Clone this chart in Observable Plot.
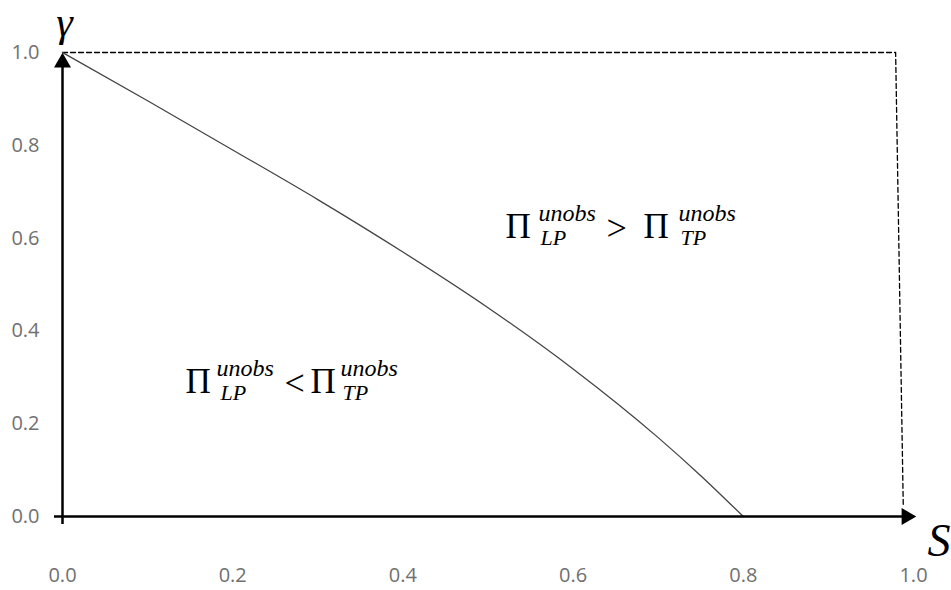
<!DOCTYPE html>
<html><head><meta charset="utf-8">
<script src="https://cdn.jsdelivr.net/npm/d3@7"></script>
<script src="https://cdn.jsdelivr.net/npm/@observablehq/plot@0.6"></script>
<style>body{margin:0;background:#fff}</style>
</head><body><div id="chart"></div>
<script>
// boundary curve (s, gamma)
const curveS     = [0, 0.1, 0.2, 0.3, 0.4, 0.5, 0.6, 0.7, 0.75, 0.8];
const curveGamma = [1, 0.896, 0.79, 0.683, 0.570, 0.450, 0.318, 0.170, 0.088, 0];
// dashed box (top edge and right edge)
const boxS     = [0, 0.979, 0.988];
const boxGamma = [1, 1, 0.02];
// tick labels
const tickValues = [0, 0.2, 0.4, 0.6, 0.8, 1.0];
// region labels
const labelS     = [0.1445, 0.5206];
const labelGamma = [0.267, 0.601];
const labelRel   = ["<", ">"];
const labelSup   = ["unobs", "unobs"];
const labelSubA  = ["LP", "LP"];
const labelSubB  = ["TP", "TP"];

const curve = curveS.map((s, i) => ({s, g: curveGamma[i]}));
const box = boxS.map((s, i) => ({s, g: boxGamma[i]}));
const labels = labelS.map((s, i) => ({s, g: labelGamma[i], rel: labelRel[i], sup: labelSup[i], a: labelSubA[i], b: labelSubB[i]}));

const serif = "'Liberation Serif', 'Times New Roman', serif";
function labelMarks(d, off) {
  const base = {x: "s", y: "g", textAnchor: "start", lineAnchor: "bottom", fill: "black", fontFamily: serif};
  return [
    Plot.text([d], {...base, text: () => "Π", fontSize: 35, dx: off[0]}),
    Plot.text([d], {...base, text: "sup", fontSize: 24, fontStyle: "italic", dx: off[1], dy: -17}),
    Plot.text([d], {...base, text: "a", fontSize: 22, fontStyle: "italic", dx: off[2], dy: 7}),
    Plot.text([d], {...base, text: "rel", fontSize: 36, dx: off[3], dy: 2}),
    Plot.text([d], {...base, text: () => "Π", fontSize: 35, dx: off[4]}),
    Plot.text([d], {...base, text: "sup", fontSize: 24, fontStyle: "italic", dx: off[5], dy: -17}),
    Plot.text([d], {...base, text: "b", fontSize: 22, fontStyle: "italic", dx: off[6], dy: 7})
  ];
}

const chart = Plot.plot({
  width: 951,
  height: 590,
  marginLeft: 62,
  marginRight: 38,
  marginTop: 52,
  marginBottom: 74,
  x: {domain: [0, 1]},
  y: {domain: [0, 1]},
  style: {fontFamily: "'Open Sans', 'Noto Sans', sans-serif", fontSize: "20px", color: "#707070", background: "#fff"},
  marks: [
    Plot.axisY({ticks: tickValues, tickFormat: d3.format(".1f"), tickSize: 0, tickPadding: 23, label: null, fontSize: 20}),
    Plot.axisX({ticks: tickValues, tickFormat: d3.format(".1f"), tickSize: 0, tickPadding: 51, label: null, fontSize: 20}),
    Plot.line(box, {x: "s", y: "g", stroke: "black", strokeWidth: 1.3, strokeDasharray: "5,3"}),
    Plot.line(curve, {x: "s", y: "g", stroke: "#444", strokeWidth: 1.3, curve: "monotone-x"}),
    Plot.ruleY([0], {x1: 0, x2: 1, stroke: "black", strokeWidth: 2.5, dx: -8}),
    Plot.ruleX([0], {y1: 0, y2: 1, stroke: "black", strokeWidth: 2.5, dy: 8}),
    Plot.dot([{s: 0, g: 1}], {x: "s", y: "g", symbol: "triangle", r: 6.3, fill: "black", stroke: null, dy: 10}),
    Plot.dot([{s: 1, g: 0}], {x: "s", y: "g", symbol: "triangle", r: 6.3, fill: "black", stroke: null, rotate: 90, dx: -7}),
    Plot.text([{s: 0, g: 1}], {x: "s", y: "g", text: () => "γ", fontFamily: serif, fontStyle: "italic", fontSize: 42, fill: "black", lineAnchor: "bottom", textAnchor: "middle", dx: 2, dy: -17}),
    Plot.text([{s: 1, g: 0}], {x: "s", y: "g", text: () => "S", fontFamily: serif, fontStyle: "italic", fontSize: 46, fill: "black", lineAnchor: "bottom", textAnchor: "start", dx: 14, dy: 39}),
    ...labelMarks(labels[0], [0, 31, 35, 99, 125, 155, 157]),
    ...labelMarks(labels[1], [0, 33, 35, 101, 138, 173, 175])
  ]
});
document.getElementById("chart").appendChild(chart);
</script>
</body></html>
